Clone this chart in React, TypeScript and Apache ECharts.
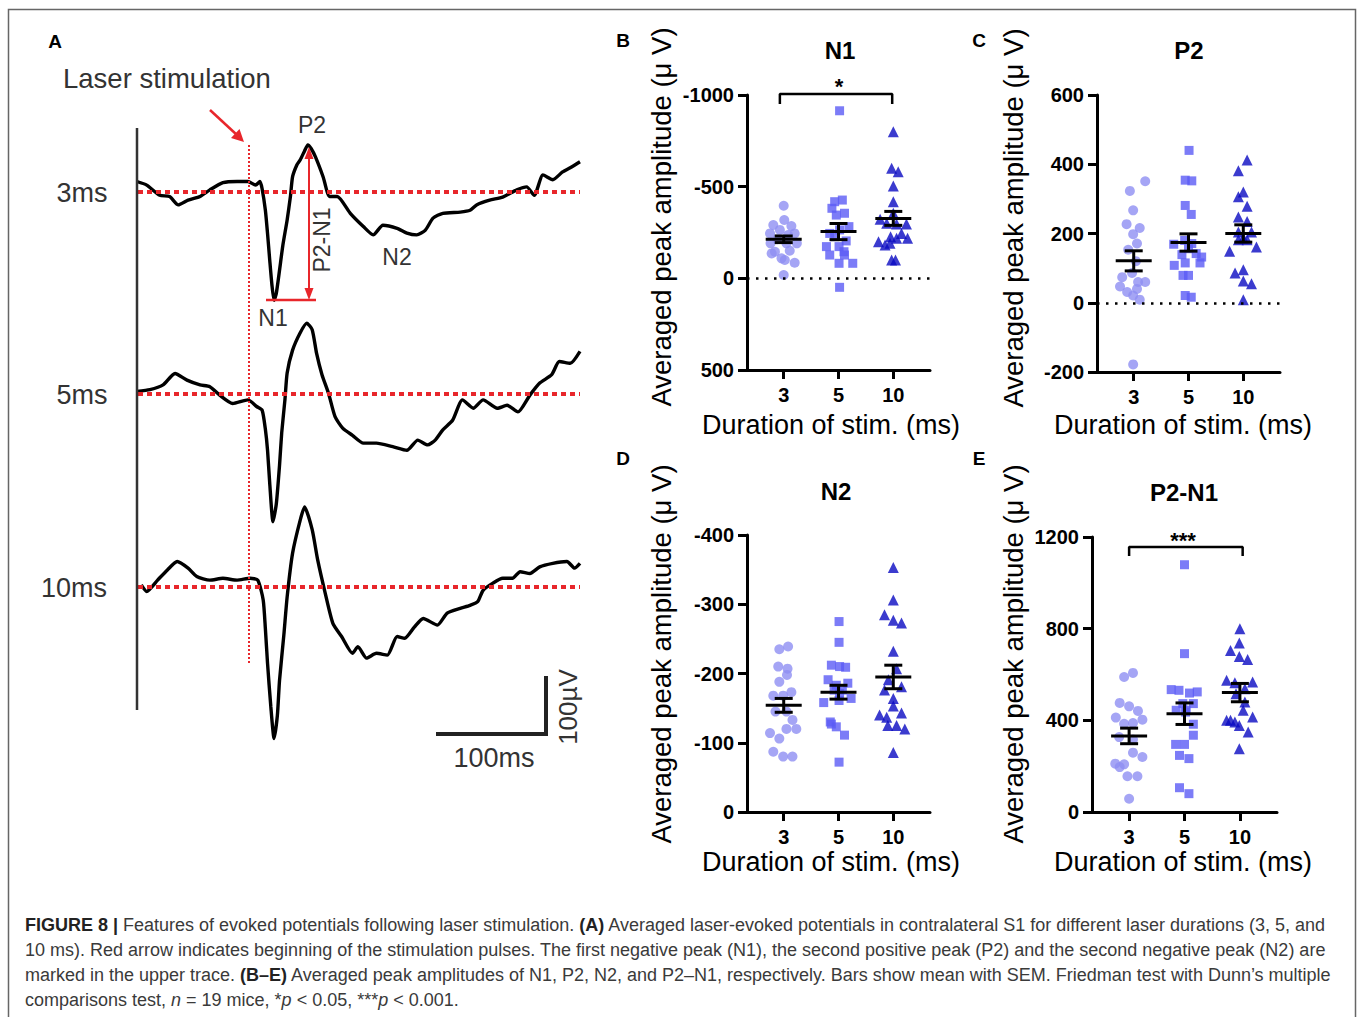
import React, { useEffect, useRef } from "react";
import * as echarts from "echarts";

const FONT = '"Liberation Sans", Arial, Helvetica, sans-serif';

// ---------- Panel A: averaged evoked potentials, [time from stimulus onset (ms), amplitude (µV)] ----------
const trace3ms: number[][] = [
  [-103, 17], [-94, 11], [-82, -6], [-73, -8], [-65, -22], [-56, -14], [-45, -8], [-36, 3], [-24, 15], [-11, 17],
  [-1, 17], [6, 11], [10, 17], [12, 5], [15, -31], [17, -70], [19, -114], [21, -155], [23, -181], [25, -170],
  [28, -131], [31, -90], [35, -47], [38, -8], [40, 25], [44, 45], [47, 53], [51, 68], [54, 78], [57, 72], [61, 58],
  [68, 25], [74, -8], [81, -8], [93, -36], [105, -58], [114, -72], [123, -56], [136, -61], [145, -69], [154, -72],
  [162, -64], [169, -44], [178, -36], [194, -34], [203, -31], [209, -22], [221, -14], [233, -9], [246, 3], [255, 8],
  [262, -6], [270, 28], [279, 20], [288, 33], [295, 40], [304, 50],
];
const trace5ms: number[][] = [
  [-103, 3], [-91, 6], [-79, 14], [-68, 33], [-57, 22], [-45, 14], [-36, 11], [-27, -3], [-15, -17], [-1, -11],
  [7, -22], [12, -28], [15, -60], [17, -95], [19, -150], [22, -214], [25, -185], [28, -120], [30, -66], [33, -10],
  [35, 34], [40, 72], [47, 101], [53, 117], [58, 106], [62, 67], [67, 31], [73, 0], [79, -39], [86, -58], [95, -70],
  [105, -83], [117, -83], [132, -89], [145, -95], [155, -78], [164, -86], [171, -78], [178, -61], [187, -45],
  [196, -11], [206, -25], [215, -11], [228, -25], [237, -20], [247, -31], [258, -3], [267, 17], [278, 31],
  [285, 53], [295, 50], [304, 70],
];
const trace10ms: number[][] = [
  [-99, 3], [-94, -8], [-84, 11], [-75, 28], [-66, 42], [-56, 31], [-48, 17], [-36, 11], [-24, 14], [-11, 11],
  [1, 14], [8, 11], [13, -22], [15, -70], [17, -128], [20, -200], [23, -253], [26, -215], [28, -156], [32, -80],
  [35, -17], [40, 56], [47, 111], [51, 133], [58, 95], [63, 45], [70, -11], [77, -61], [85, -83], [95, -111],
  [100, -100], [108, -119], [117, -111], [127, -114], [136, -83], [143, -86], [152, -67], [160, -53], [173, -64],
  [182, -44], [194, -36], [203, -31], [210, -25], [215, -6], [224, 6], [233, 14], [242, 14], [249, 25], [258, 22],
  [267, 33], [279, 39], [292, 42], [299, 31], [304, 39],
];

// ---------- Panels B–E: per-mouse averaged peak amplitudes (µV); jitter = horizontal spread in category units ----------
const durations = ["3", "5", "10"];

const N1_3ms = [-396, -318, -291, -285, -264, -245, -245, -236, -213, -191, -191, -191, -145, -151, -136, -109, -85, -100, -18];
const N1_3ms_jit = [0, 0.01, -0.19, 0.14, -0.07, 0.2, -0.25, 0.08, -0.12, 0.24, 0.05, -0.24, -0.16, 0.11, -0.22, -0.04, 0.2, 0.02, 0];
const N1_5ms = [-914, -427, -418, -382, -355, -345, -282, -264, -245, -227, -204, -173, -173, -145, -127, -127, -82, -82, 49];
const N1_5ms_jit = [0.02, 0.07, -0.07, -0.12, 0.11, -0.04, 0.19, 0.02, -0.16, -0.07, 0.14, 0.01, -0.22, 0.1, -0.16, 0.11, 0.01, 0.26, 0.02];
const N1_10ms = [-800, -600, -582, -504, -418, -355, -322, -300, -296, -296, -245, -227, -218, -218, -200, -191, -182, -100, -100];
const N1_10ms_jit = [0, -0.03, 0.09, 0, 0, 0, -0.24, -0.12, 0.06, 0.24, 0.15, -0.05, 0.26, 0.06, -0.27, -0.06, -0.15, -0.03, 0.04];
const N1_mean = [-213, -255, -327];
const N1_sem = [18, 44, 38];

const P2_3ms = [351, 323, 267, 227, 216, 198, 171, 153, 120, 86, 60, 60, 47, 31, 21, 9, 74, 40, -178];
const P2_3ms_jit = [0.21, -0.07, -0.01, -0.13, 0.11, -0.01, 0.06, -0.1, 0.04, -0.03, 0.21, 0.08, -0.25, -0.12, -0.01, 0.11, -0.21, 0.06, -0.01];
const P2_5ms = [440, 354, 352, 281, 255, 169, 180, 171, 139, 142, 156, 132, 115, 115, 108, 79, 79, 21, 16];
const P2_5ms_jit = [0.01, -0.06, 0.06, -0.06, 0.05, -0.27, -0.07, 0.06, -0.12, 0.14, 0, 0.24, -0.06, 0.21, -0.26, -0.1, 0, -0.06, 0.05];
const P2_10ms = [412, 381, 320, 306, 279, 248, 235, 204, 204, 187, 182, 182, 161, 149, 86, 95, 63, 55, 9];
const P2_10ms_jit = [0.07, -0.09, 0, -0.09, 0.07, -0.09, 0.07, 0.15, -0.09, 0, -0.09, 0.07, 0.24, -0.25, -0.15, 0, 0, 0.15, 0];
const P2_mean = [121, 174, 200];
const P2_sem = [29, 25, 25];

const N2_3ms = [-239, -235, -210, -207, -198, -188, -173, -168, -168, -145, -145, -133, -120, -120, -114, -106, -87, -80, -80];
const N2_3ms_jit = [0.08, -0.08, -0.1, 0.07, 0.06, -0.08, 0.14, -0.19, -0.01, -0.15, 0.05, 0.16, 0.05, 0.23, -0.25, -0.08, -0.19, -0.01, 0.16];
const N2_5ms = [-275, -245, -212, -210, -209, -191, -183, -186, -176, -176, -164, -158, -161, -130, -127, -111, -123, -72, -171];
const N2_5ms_jit = [0.01, 0.01, -0.13, 0.02, 0.13, -0.19, -0.04, 0.17, -0.08, 0.07, 0.23, -0.27, 0.01, -0.15, -0.13, 0.11, -0.04, 0.01, 0.02];
const N2_10ms = [-353, -306, -285, -277, -273, -232, -207, -191, -176, -181, -164, -153, -140, -143, -137, -125, -125, -120, -86];
const N2_10ms_jit = [0, 0, -0.16, 0, 0.15, 0, 0.06, -0.09, -0.16, 0.15, 0, 0, -0.25, 0.15, -0.12, -0.1, 0.06, 0.21, 0];
const N2_mean = [-154, -173, -195];
const N2_sem = [10, 10, 17];

const P2N1_3ms = [607, 589, 476, 461, 441, 412, 403, 388, 385, 316, 327, 259, 240, 211, 208, 196, 156, 156, 58];
const P2N1_3ms_jit = [0.07, -0.09, -0.17, 0, 0.16, -0.24, 0.24, 0.07, -0.09, 0.07, -0.18, 0.07, 0.24, -0.25, -0.09, -0.17, -0.03, 0.15, 0];
const P2N1_5ms = [1079, 691, 534, 531, 519, 524, 473, 473, 444, 436, 383, 335, 295, 295, 247, 233, 106, 80, 444];
const P2N1_5ms_jit = [0, 0, -0.24, -0.1, 0.09, 0.23, 0.16, -0.03, -0.15, 0.02, 0.16, 0.16, -0.16, 0, -0.09, 0.08, -0.09, 0.08, 0.03];
const P2N1_10ms = [800, 737, 705, 679, 665, 575, 567, 564, 538, 516, 480, 444, 415, 400, 393, 378, 349, 276, 400];
const P2N1_10ms_jit = [0, -0.01, -0.17, -0.01, 0.14, -0.24, 0.23, -0.09, 0.09, -0.07, 0.09, 0.06, 0.23, -0.24, -0.09, -0.01, 0.15, -0.01, -0.17];
const P2N1_mean = [332, 429, 521];
const P2N1_sem = [34, 47, 40];

// significance brackets [category position, value]
const N1_bracket = [[-0.07, -951], [-0.07, -1005], [1.98, -1005], [1.98, -951]];
const P2N1_bracket = [[0, 1117], [0, 1156], [2.05, 1156], [2.05, 1117]];

const captionLines = [
  "{b|FIGURE 8 |} Features of evoked potentials following laser stimulation. {b|(A)} Averaged laser-evoked potentials in contralateral S1 for different laser durations (3, 5, and",
  "10 ms). Red arrow indicates beginning of the stimulation pulses. The first negative peak (N1), the second positive peak (P2) and the second negative peak (N2) are",
  "marked in the upper trace. {b|(B–E)} Averaged peak amplitudes of N1, P2, N2, and P2–N1, respectively. Bars show mean with SEM. Friedman test with Dunn’s multiple",
  "comparisons test, {i|n} = 19 mice, *{i|p} < 0.05, ***{i|p} < 0.001.",
];

const RED = "#e8262b";
const COLORS = ["#8e8ef2", "#5b5bf5", "#0a0ac2"];
const SYMBOLS = ["circle", "rect", "triangle"];
const SIZES = [10, 9, 11];

function buildOption() {
  const traceBaselines = [191.7, 393.3, 586.7];
  const traces = [trace3ms, trace5ms, trace10ms];

  const grids: any[] = traceBaselines.map((b) => ({ left: 138, width: 442, top: b - 180, height: 360 }));
  const xAxes: any[] = traces.map((_, i) => ({ gridIndex: i, type: "value", min: -102, max: 304, show: false }));
  const yAxes: any[] = traces.map((_, i) => ({ gridIndex: i, type: "value", min: -300, max: 300, show: false }));
  const series: any[] = traces.map((t, i) => ({
    type: "line",
    xAxisIndex: i,
    yAxisIndex: i,
    data: t,
    showSymbol: false,
    smooth: 0.2,
    lineStyle: { color: "#000", width: 3.4 },
    z: 3,
    markLine: {
      silent: true,
      symbol: ["none", "none"],
      label: { show: false },
      lineStyle: { color: RED, type: [5, 4], width: 4 },
      data: [{ yAxis: 0 }],
      z: 4,
    },
  }));

  const panels = [
    {
      rect: { left: 747, top: 95, width: 183, height: 275 },
      groups: [[N1_3ms, N1_3ms_jit], [N1_5ms, N1_5ms_jit], [N1_10ms, N1_10ms_jit]],
      mean: N1_mean, sem: N1_sem, min: -1000, max: 500, interval: 500, inverse: true, zero: true, bracket: N1_bracket,
    },
    {
      rect: { left: 1097, top: 95, width: 183, height: 277 },
      groups: [[P2_3ms, P2_3ms_jit], [P2_5ms, P2_5ms_jit], [P2_10ms, P2_10ms_jit]],
      mean: P2_mean, sem: P2_sem, min: -200, max: 600, interval: 200, inverse: false, zero: true, bracket: null,
    },
    {
      rect: { left: 747, top: 535, width: 183, height: 277 },
      groups: [[N2_3ms, N2_3ms_jit], [N2_5ms, N2_5ms_jit], [N2_10ms, N2_10ms_jit]],
      mean: N2_mean, sem: N2_sem, min: -400, max: 0, interval: 100, inverse: true, zero: false, bracket: null,
    },
    {
      rect: { left: 1092, top: 537, width: 185, height: 275 },
      groups: [[P2N1_3ms, P2N1_3ms_jit], [P2N1_5ms, P2N1_5ms_jit], [P2N1_10ms, P2N1_10ms_jit]],
      mean: P2N1_mean, sem: P2N1_sem, min: 0, max: 1200, interval: 400, inverse: false, zero: false, bracket: P2N1_bracket,
    },
  ];

  const axisLine = { show: true, onZero: false, lineStyle: { color: "#000", width: 3 } };
  const axisTick = { show: true, length: 9, lineStyle: { color: "#000", width: 3 } };

  panels.forEach((p, k) => {
    const gi = 3 + k;
    grids.push({ ...p.rect });
    xAxes.push({
      gridIndex: gi, type: "value", min: -0.67, max: 2.67,
      axisLine, splitLine: { show: false },
      axisTick: { ...axisTick, customValues: [0, 1, 2] },
      axisLabel: {
        customValues: [0, 1, 2], formatter: (v: number) => durations[Math.round(v)] ?? "",
        fontFamily: FONT, fontSize: 20, fontWeight: "bold", color: "#000", margin: 15,
      },
    });
    yAxes.push({
      gridIndex: gi, type: "value", min: p.min, max: p.max, interval: p.interval, inverse: p.inverse,
      axisLine, axisTick, splitLine: { show: false },
      axisLabel: {
        formatter: (v: number) => String(v),
        fontFamily: FONT, fontSize: 20, fontWeight: "bold", color: "#000", margin: 13,
      },
    });
    p.groups.forEach(([vals, jit], g) => {
      series.push({
        type: "scatter", xAxisIndex: gi, yAxisIndex: gi,
        data: (vals as number[]).map((v, i) => [g + (jit as number[])[i], v]),
        symbol: SYMBOLS[g], symbolSize: SIZES[g],
        itemStyle: { color: COLORS[g] }, z: 2,
        markLine: g === 0 && p.zero ? {
          silent: true, symbol: ["none", "none"], label: { show: false },
          lineStyle: { color: "#000", type: [2.5, 6.5], width: 2.5 }, data: [{ yAxis: 0 }],
        } : undefined,
      });
    });
    series.push({
      type: "custom", xAxisIndex: gi, yAxisIndex: gi, z: 5,
      encode: { x: 0, y: 1 },
      data: p.mean.map((m, i) => [i, m, p.sem[i]]),
      renderItem: (params: any, api: any) => {
        const x = api.value(0), m = api.value(1), s = api.value(2);
        const c = api.coord([x, m]);
        const a = api.coord([x, m - s]);
        const b = api.coord([x, m + s]);
        const st = { stroke: "#000", lineWidth: 3 };
        return {
          type: "group",
          children: [
            { type: "line", shape: { x1: c[0] - 18, y1: c[1], x2: c[0] + 18, y2: c[1] }, style: st },
            { type: "line", shape: { x1: c[0], y1: a[1], x2: c[0], y2: b[1] }, style: st },
            { type: "line", shape: { x1: c[0] - 9, y1: a[1], x2: c[0] + 9, y2: a[1] }, style: st },
            { type: "line", shape: { x1: c[0] - 9, y1: b[1], x2: c[0] + 9, y2: b[1] }, style: st },
          ],
        };
      },
    });
    if (p.bracket) {
      series.push({
        type: "line", xAxisIndex: gi, yAxisIndex: gi, data: p.bracket, clip: false,
        showSymbol: false, symbol: "none", lineStyle: { color: "#000", width: 2.5 }, z: 5,
      });
    }
  });

  const txt = (text: string, x: number, y: number, size: number, opts: any = {}) => ({
    type: "text", x, y, rotation: opts.rotation ?? 0, z: 10,
    style: {
      text, fontFamily: FONT, fontSize: size, fontWeight: opts.bold ? "bold" : "normal",
      fill: opts.color ?? "#000", align: opts.align ?? "center", verticalAlign: "middle",
    },
  });
  const ln = (x1: number, y1: number, x2: number, y2: number, color: string, w: number, dash?: number[]) => ({
    type: "line", z: 10, shape: { x1, y1, x2, y2 },
    style: { stroke: color, lineWidth: w, lineDash: dash ?? null },
  });
  const tri = (pts: number[][], color: string) => ({ type: "polygon", z: 10, shape: { points: pts }, style: { fill: color } });

  const G = "#333";
  const yTitle = "Averaged peak amplitude (μ V)";
  const xTitle = "Duration of stim. (ms)";
  const graphic: any[] = [
    { type: "rect", z: 0, shape: { x: 8.5, y: 9.5, width: 1347, height: 1020 }, style: { fill: "none", stroke: "#666", lineWidth: 1.5 } },
    // panel A
    txt("A", 55, 41, 19, { bold: true }),
    txt("Laser stimulation", 63, 78, 27.5, { align: "left", color: G }),
    txt("3ms", 82, 193, 27, { color: G }),
    txt("5ms", 82, 395, 27, { color: G }),
    txt("10ms", 74, 588, 27, { color: G }),
    ln(137, 128, 137, 710, G, 2.5),
    ln(249, 145, 249, 663, RED, 2, [2, 2]),
    ln(210, 110, 237, 135, RED, 2.5),
    tri([[244, 142], [231, 138], [239.5, 129]], RED),
    ln(309, 156, 309, 291, RED, 2),
    tri([[309, 147], [304.5, 159], [313.5, 159]], RED),
    tri([[309, 300], [304.5, 288], [313.5, 288]], RED),
    ln(266, 300, 316, 300, RED, 2.5),
    txt("P2", 312, 125, 23, { color: G }),
    txt("N1", 273, 318, 23, { color: G }),
    txt("N2", 397, 257, 23, { color: G }),
    txt("P2-N1", 322, 240, 23, { color: G, rotation: Math.PI / 2 }),
    { type: "polyline", z: 10, shape: { points: [[436, 734], [546, 734], [546, 676]] }, style: { stroke: "#222", lineWidth: 4, fill: "none" } },
    txt("100ms", 494, 758, 27, { color: G }),
    txt("100µV", 568, 707, 26, { color: G, rotation: Math.PI / 2 }),
    // panels B–E
    txt("B", 623, 40, 19, { bold: true }),
    txt("C", 979, 40, 19, { bold: true }),
    txt("D", 623, 458, 19, { bold: true }),
    txt("E", 979, 458, 19, { bold: true }),
    txt("N1", 840, 50, 24, { bold: true }),
    txt("P2", 1189, 50, 24, { bold: true }),
    txt("N2", 836, 491, 24, { bold: true }),
    txt("P2-N1", 1184, 492, 24, { bold: true }),
    txt(yTitle, 661, 217, 27.5, { rotation: Math.PI / 2 }),
    txt(yTitle, 1013, 218, 27.5, { rotation: Math.PI / 2 }),
    txt(yTitle, 661, 654, 27.5, { rotation: Math.PI / 2 }),
    txt(yTitle, 1013, 654, 27.5, { rotation: Math.PI / 2 }),
    txt(xTitle, 831, 425, 27),
    txt(xTitle, 1183, 425, 27),
    txt(xTitle, 831, 862, 27),
    txt(xTitle, 1183, 862, 27),
    txt("*", 839, 86, 22, { bold: true }),
    txt("***", 1183, 540, 22, { bold: true }),
  ];

  const cap = { fontFamily: FONT, fontSize: 18, fill: "#3a3a3a" };
  captionLines.forEach((line, i) => {
    graphic.push({
      type: "text", x: 25, y: 925 + i * 25, z: 10,
      style: {
        text: line, ...cap, align: "left", verticalAlign: "middle",
        rich: {
          b: { ...cap, fontWeight: "bold", fill: "#222" },
          i: { ...cap, fontStyle: "italic" },
        },
      },
    });
  });

  return {
    animation: false,
    backgroundColor: "#fff",
    grid: grids,
    xAxis: xAxes,
    yAxis: yAxes,
    series,
    graphic,
  };
}

export default function App() {
  const ref = useRef<HTMLDivElement>(null);
  useEffect(() => {
    const chart = echarts.init(ref.current!, null, { renderer: "svg" });
    chart.setOption(buildOption() as any);
    return () => chart.dispose();
  }, []);
  return (
    <div
      ref={ref}
      style={{ position: "absolute", left: 0, top: 0, width: 1357, height: 1017, background: "#fff" }}
    />
  );
}
